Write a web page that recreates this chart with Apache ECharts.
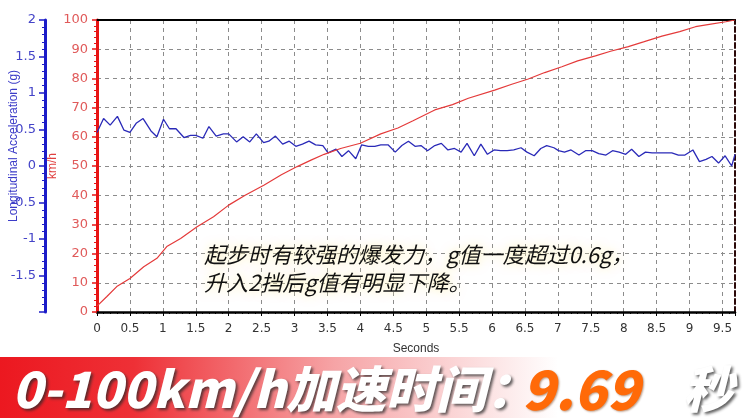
<!DOCTYPE html>
<html>
<head>
<meta charset="utf-8">
<script src="https://cdn.jsdelivr.net/npm/echarts@6/dist/echarts.min.js"></script>
<style>
html,body{margin:0;padding:0;background:#fff;}
#c{width:744px;height:418px;}
</style>
</head>
<body>
<div id="c"></div>
<script>
// ---- data ----
const speedTime = [0,0.15,0.3,0.5,0.71,0.91,1.06,1.27,1.52,1.77,2.0,2.25,2.54,2.8,3.04,3.25,3.45,3.7,4.0,4.31,4.57,4.8,5.13,5.4,5.64,6.04,6.3,6.55,6.8,7.06,7.3,7.57,7.8,8.07,8.3,8.58,8.85,9.09,9.3,9.55,9.69];
const speedKmh  = [2,5.3,8.7,11.5,15.5,18.4,22.4,25.2,29.2,32.6,36.6,40,43.5,47,49.8,52,54,56,57.8,61,63,65.5,69.2,71,73.2,76,78,79.8,82,84,86,87.7,89.3,90.9,92.5,94.5,96,97.7,98.5,99.4,100];

const accelTime = [0,0.1,0.2,0.31,0.41,0.5,0.6,0.7,0.82,0.91,
  1.01,1.1,1.2,1.32,1.42,1.5,1.61,1.7,1.81,1.92,
  2.0,2.12,2.22,2.32,2.42,2.53,2.61,2.71,2.82,2.92,
  3.02,3.12,3.22,3.32,3.43,3.51,3.63,3.72,3.82,3.93,
  4.02,4.12,4.22,4.31,4.42,4.53,4.63,4.73,4.83,4.92,
  5.02,5.13,5.23,5.33,5.43,5.53,5.62,5.73,5.83,5.93,
  6.03,6.13,6.23,6.33,6.44,6.53,6.64,6.74,6.83,6.94,
  7.01,7.1,7.2,7.32,7.42,7.52,7.62,7.73,7.83,7.93,
  8.03,8.12,8.23,8.33,8.43,8.53,8.63,8.73,8.83,8.93,
  9.05,9.15,9.25,9.34,9.44,9.54,9.64,9.69];
const accelG = [0.46,0.65,0.56,0.68,0.49,0.46,0.59,0.65,0.48,0.40,
  0.64,0.51,0.51,0.39,0.42,0.42,0.38,0.54,0.41,0.44,
  0.44,0.33,0.40,0.33,0.44,0.32,0.34,0.41,0.30,0.34,
  0.27,0.30,0.34,0.29,0.28,0.18,0.23,0.13,0.21,0.10,
  0.29,0.27,0.27,0.29,0.29,0.19,0.28,0.34,0.27,0.28,
  0.21,0.28,0.31,0.22,0.24,0.19,0.31,0.14,0.30,0.16,
  0.22,0.21,0.21,0.22,0.25,0.19,0.14,0.24,0.28,0.25,
  0.21,0.19,0.22,0.15,0.21,0.21,0.17,0.15,0.21,0.19,
  0.16,0.23,0.13,0.19,0.18,0.18,0.18,0.18,0.15,0.15,
  0.22,0.06,0.09,0.13,0.04,0.14,0.00,0.16];

const timeMax = 9.69;
const xTitle = 'Seconds';
const accelTitle = 'Longitudinal Acceleration (g)';
const speedTitle = 'km/h';
const noteLines = ['起步时有较强的爆发力，g值一度超过0.6g，', '升入2挡后g值有明显下降。'];
const bannerLabel = '0-100km/h加速时间：';
const bannerValue = '9.69';
const bannerUnit = '秒';

// ---- chart ----
const chart = echarts.init(document.getElementById('c'), null, {renderer:'canvas'});
const gridCol = '#8c8c8c';
const blue = '#1c1cc8';
const red = '#e81414';

const option = {
  animation: false,
  backgroundColor: '#fff',
  grid: {left: 97, right: 9, top: 20, bottom: 106},
  xAxis: [{
    type: 'value', min: 0, max: timeMax, interval: 0.5, position: 'bottom',
    axisLine: {onZero: false, lineStyle: {color: '#000', width: 2.5}},
    axisTick: {show: true, length: 4, lineStyle: {color: '#000'}},
    minorTick: {show: true, splitNumber: 5, length: 2, lineStyle: {color: '#000'}},
    axisLabel: {showMaxLabel: false, color: '#333', fontSize: 12, fontFamily: 'DejaVu Sans', margin: 11},
    splitLine: {show: true, lineStyle: {type: [4, 4], color: gridCol, width: 1}},
    name: xTitle, nameLocation: 'middle', nameGap: 31, nameMoveOverlap: false,
    nameTextStyle: {color: '#333', fontSize: 12, fontFamily: 'Liberation Sans'}
  }, {
    type: 'value', min: 0, max: timeMax, position: 'top',
    axisLine: {onZero: false, lineStyle: {color: '#000', width: 2}},
    axisTick: {show: false}, axisLabel: {show: false}, splitLine: {show: false}
  }],
  yAxis: [{
    type: 'value', min: -2, max: 2, interval: 0.5, position: 'left', offset: 52,
    axisLine: {show: true, onZero: false, lineStyle: {color: blue, width: 3}},
    axisTick: {show: true, length: 6, lineStyle: {color: blue, width: 1.5}},
    minorTick: {show: true, splitNumber: 5, length: 3, lineStyle: {color: blue}},
    axisLabel: {color: '#4444c8', fontSize: 13, fontFamily: 'DejaVu Sans', margin: 9,
      formatter: v => (v === -2 ? '' : String(v))},
    splitLine: {show: false}
  }, {
    type: 'value', min: 0, max: 100, interval: 10, position: 'left',
    axisLine: {show: true, onZero: false, lineStyle: {color: red, width: 3}},
    axisTick: {show: true, length: 5, lineStyle: {color: red, width: 1.5}},
    minorTick: {show: true, splitNumber: 5, length: 3, lineStyle: {color: red}},
    axisLabel: {color: '#e05a5a', fontSize: 13, fontFamily: 'DejaVu Sans', margin: 9},
    splitLine: {show: true, lineStyle: {type: [4, 4], color: gridCol, width: 1}},
    name: speedTitle, nameLocation: 'middle', nameGap: 38, nameMoveOverlap: false,
    nameTextStyle: {color: '#e04040', fontSize: 12, fontFamily: 'Liberation Sans'}
  }, {
    type: 'value', min: 0, max: 1, position: 'right',
    axisLine: {show: true, onZero: false, lineStyle: {color: '#2a0808', width: 2, type: [5, 3]}},
    axisTick: {show: false}, axisLabel: {show: false}, splitLine: {show: false}
  }],
  series: [{
    type: 'line', xAxisIndex: 0, yAxisIndex: 0, showSymbol: false, silent: true,
    data: accelTime.map((t, i) => [t, accelG[i]]),
    lineStyle: {color: '#2a2ab8', width: 1.3}
  }, {
    type: 'line', xAxisIndex: 0, yAxisIndex: 1, showSymbol: false, silent: true,
    data: speedTime.map((t, i) => [t, speedKmh[i]]),
    lineStyle: {color: '#e43a3a', width: 1.2}
  }],
  graphic: [
    {type: 'text', x: 14, y: 146, rotation: Math.PI / 2, z: 10,
     style: {text: accelTitle, fill: '#3c3cc8', font: '12px "Liberation Sans"', align: 'center', verticalAlign: 'middle'}},
    {type: 'text', x: 204, y: 255, z: 10,
     style: {text: noteLines[0], fill: '#111', font: 'italic 22px "Noto Sans CJK SC"', align: 'left', verticalAlign: 'middle',
       textShadowColor: '#fff4b0', textShadowBlur: 10}},
    {type: 'text', x: 204, y: 283, z: 10,
     style: {text: noteLines[1], fill: '#111', font: 'italic 22px "Noto Sans CJK SC"', align: 'left', verticalAlign: 'middle',
       textShadowColor: '#fff4b0', textShadowBlur: 10}},
    {type: 'rect', z: 5, shape: {x: 0, y: 357, width: 744, height: 61},
     style: {fill: {type: 'linear', x: 0, y: 0, x2: 1, y2: 0, colorStops: [
       {offset: 0, color: '#ec1820'}, {offset: 0.18, color: '#ee3036'},
       {offset: 0.45, color: '#f6a4a6'}, {offset: 0.75, color: '#ffffff'}, {offset: 1, color: '#ffffff'}]}}},
    {type: 'text', x: 12, y: 389, z: 10,
     style: {text: bannerLabel, fill: '#fff', font: 'italic 900 50px "Noto Sans CJK SC"', align: 'left', verticalAlign: 'middle',
       textShadowColor: 'rgba(40,40,40,0.75)', textShadowOffsetX: 2, textShadowOffsetY: 2, textShadowBlur: 3}},
    {type: 'text', x: 522, y: 389, z: 10,
     style: {text: bannerValue, fill: '#ff6a08', font: 'italic 900 54px "Noto Sans CJK SC"', align: 'left', verticalAlign: 'middle',
       textShadowColor: 'rgba(120,60,20,0.5)', textShadowOffsetX: 1, textShadowOffsetY: 1, textShadowBlur: 2}},
    {type: 'text', x: 683, y: 389, z: 10,
     style: {text: bannerUnit, fill: '#fff', font: 'italic 900 50px "Noto Sans CJK SC"', align: 'left', verticalAlign: 'middle',
       textShadowColor: 'rgba(40,40,40,0.75)', textShadowOffsetX: 2, textShadowOffsetY: 2, textShadowBlur: 3}}
  ]
};
chart.setOption(option);
</script>
</body>
</html>
